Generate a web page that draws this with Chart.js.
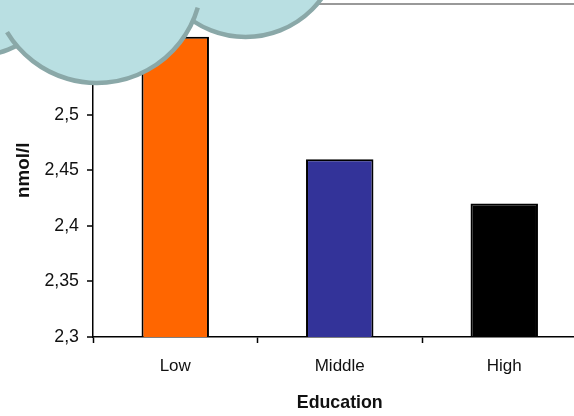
<!DOCTYPE html>
<html>
<head>
<meta charset="utf-8">
<style>
html,body{margin:0;padding:0;background:#fff;overflow:hidden;width:574px;height:416px}
#wrap{position:relative;width:600px;height:416px}
</style>
<script src="https://cdn.jsdelivr.net/npm/chart.js@4"></script>
</head>
<body>
<div id="wrap"><canvas id="c" width="600" height="416"></canvas></div>
<script>
const categories = ["Low", "Middle", "High"];
const nmolValues = [2.57, 2.46, 2.42];
const barColors = ["#FF6600", "#333399", "#000000"];
const yTickStep = 0.05;
const yMin = 2.3;
const yMax = 2.6;

// Speech-cloud callout sitting over the top-left corner of the plot.
const cloudCallout = {
  id: "cloudCallout",
  afterDraw(chart) {
    const g = chart.ctx;
    const fill = "#B9DFE2", edge = "#8AA8A8";
    g.save();
    g.lineWidth = 4.5;
    g.strokeStyle = edge;
    g.fillStyle = fill;
    const lobe = (x, y, r) => {
      g.beginPath();
      g.arc(x, y, r, 0, Math.PI * 2);
      g.fill();
      g.stroke();
    };
    lobe(-25, -34, 90);
    lobe(245.6, -57, 94);
    // Front lobe: filled whole, outlined only along its lower edge.
    g.beginPath();
    g.arc(97, -22, 105, 0, Math.PI * 2);
    g.fill();
    g.beginPath();
    g.arc(97, -22, 105, 0.285, 2.6);
    g.stroke();
    g.restore();
  }
};

new Chart(document.getElementById("c"), {
  type: "bar",
  data: {
    labels: categories,
    datasets: [{
      data: nmolValues,
      backgroundColor: barColors,
      borderColor: "#000",
      borderWidth: 2,
      borderSkipped: false,
      categoryPercentage: 1,
      barPercentage: 0.41
    }]
  },
  options: {
    responsive: false,
    animation: false,
    layout: { padding: { top: 3.5, right: 13.5, bottom: 0, left: 0 } },
    plugins: { legend: { display: false }, tooltip: { enabled: false } },
    scales: {
      x: {
        afterFit(s) { s.height = 79; s.paddingLeft = 0; s.paddingRight = 0; },
        grid: { display: true, drawOnChartArea: false, offset: true, color: "#000", tickLength: 6, tickWidth: 1.5 },
        border: { color: "#000", width: 1.5 },
        ticks: { color: "#111", font: { family: "Liberation Sans", size: 17 }, padding: 13, maxRotation: 0 },
        title: { display: true, text: "Education", color: "#111", font: { family: "Liberation Sans", size: 17.8, weight: "bold" }, padding: { top: 10, bottom: 2 } }
      },
      y: {
        min: yMin,
        max: yMax,
        afterFit(s) { s.width = 93; s.paddingTop = 0; s.paddingBottom = 0; },
        afterBuildTicks(axis) {
          axis.ticks = [];
          for (let i = 0; i <= 6; i++) axis.ticks.push({ value: Number((yMin + i * yTickStep).toFixed(2)) });
        },
        grid: {
          color: c => (c.tick && c.tick.value >= yMax ? "#999" : "rgba(0,0,0,0)"),
          lineWidth: 2,
          tickColor: "#000",
          tickWidth: 1.5,
          tickLength: 6
        },
        border: { color: "#000", width: 1.5 },
        ticks: {
          color: "#111",
          font: { family: "Liberation Sans", size: 17.8 },
          padding: 8,
          callback: v => String(Number(v.toFixed(2))).replace(".", ",")
        },
        title: { display: true, text: "nmol/l", color: "#111", font: { family: "Liberation Sans", size: 18.8, weight: "bold" }, padding: { top: 13, bottom: 4 } }
      }
    }
  },
  plugins: [cloudCallout]
});
</script>
</body>
</html>
